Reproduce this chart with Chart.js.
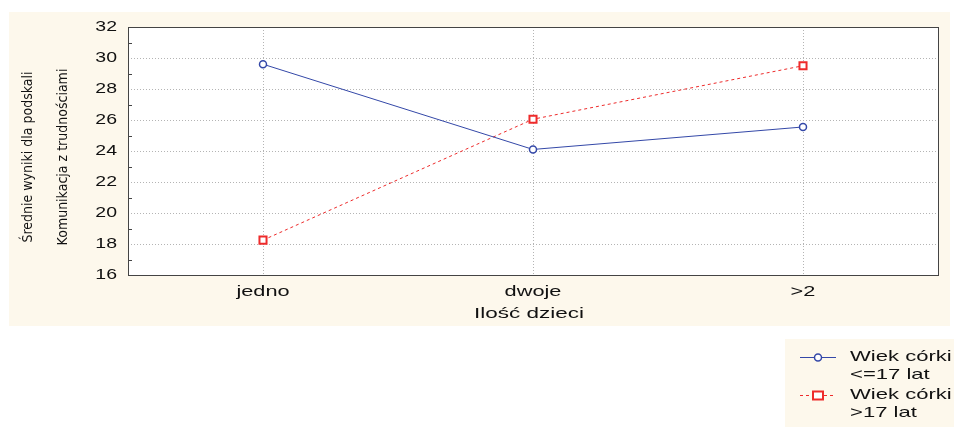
<!DOCTYPE html>
<html>
<head>
<meta charset="utf-8">
<script src="https://cdn.jsdelivr.net/npm/chart.js@4/dist/chart.umd.min.js"></script>
<style>
  html, body { margin: 0; padding: 0; background: #fff; }
  #wrap { width: 954px; height: 427px; position: relative; }
</style>
</head>
<body>
<div id="wrap"><canvas id="c" width="954" height="427"></canvas></div>
<script>
// --- Data ---
const categories = ['jedno', 'dwoje', '>2'];
const youngerDaughter = [29.6, 24.1, 25.55];   // Wiek córki <=17 lat
const olderDaughter = [18.25, 26.05, 29.5];    // Wiek córki >17 lat
const seriesNames = [['Wiek córki', '<=17 lat'], ['Wiek córki', '>17 lat']];
const yTitle = ['Średnie wyniki dla podskali', 'Komunikacja z trudnościami'];
const xTitle = 'Ilość dzieci';

const CREAM = '#fdf8ec';
const BLUE = '#3448a8';
const RED = '#ee2b2b';
const FONT = '"Liberation Sans", Arial, sans-serif';
const NARROW = '"Liberation Sans Narrow", "DejaVu Sans Condensed", sans-serif';
const STRETCH = 1.45;   // the original text is drawn wide

// text widened horizontally, like the source image
function wideText(ctx, text, x, y, align, sx) {
    ctx.save();
    ctx.translate(x, y);
    ctx.scale(sx || STRETCH, 1);
    ctx.textAlign = align;
    ctx.fillText(text, 0, 0);
    ctx.restore();
}

const framePlugin = {
    id: 'frame',
    beforeDraw(chart) {
        const ctx = chart.ctx;
        ctx.save();
        ctx.fillStyle = CREAM;
        ctx.fillRect(9, 12, 941, 314);
        ctx.fillRect(785, 339, 169, 88);
        const a = chart.chartArea;
        ctx.fillStyle = '#fff';
        ctx.fillRect(a.left, a.top, a.right - a.left, a.bottom - a.top);
        ctx.restore();
    },
    afterDraw(chart) {
        const ctx = chart.ctx;
        const a = chart.chartArea;
        const x = chart.scales.x;
        const y = chart.scales.y;
        ctx.save();
        ctx.strokeStyle = '#444';
        ctx.lineWidth = 1;
        ctx.strokeRect(Math.round(a.left) + 0.5, Math.round(a.top) + 0.5,
                       Math.round(a.right - a.left), Math.round(a.bottom - a.top));
        // minor ticks at odd values
        ctx.beginPath();
        for (let v = 17; v < 32; v += 2) {
            const py = Math.round(y.getPixelForValue(v)) + 0.5;
            ctx.moveTo(a.left, py);
            ctx.lineTo(a.left + 4, py);
        }
        ctx.stroke();

        // tick labels, placed by the scales
        ctx.fillStyle = '#111';
        ctx.textBaseline = 'middle';
        ctx.font = '15px ' + FONT;
        y.ticks.forEach((t, i) => {
            wideText(ctx, String(t.value), a.left - 11, y.getPixelForTick(i), 'right', 1.3);
        });
        x.ticks.forEach((t, i) => {
            wideText(ctx, categories[t.value], x.getPixelForTick(i), 292, 'center');
        });

        // axis titles
        wideText(ctx, xTitle, (a.left + a.right) / 2 - 4, 314, 'center', 1.5);
        ctx.save();
        ctx.translate(0, 157);
        ctx.rotate(-Math.PI / 2);
        ctx.font = '14px ' + NARROW;
        ctx.textAlign = 'center';
        ctx.fillText(yTitle[0], 0, 28);
        ctx.fillText(yTitle[1], 0, 63);
        ctx.restore();

        // legend
        const rows = [357, 395];
        chart.data.datasets.forEach((ds, i) => {
            const ly = rows[i] + 0.5;
            ctx.strokeStyle = ds.borderColor;
            ctx.lineWidth = 1;
            ctx.setLineDash(ds.borderDash || []);
            ctx.beginPath();
            ctx.moveTo(800, ly);
            ctx.lineTo(836, ly);
            ctx.stroke();
            ctx.setLineDash([]);
            ctx.fillStyle = '#fff';
            ctx.lineWidth = ds.pointBorderWidth;
            if (ds.pointStyle === 'rect') {
                ctx.fillRect(813, ly - 4, 10, 8);
                ctx.strokeRect(813, ly - 4, 10, 8);
            } else {
                ctx.beginPath();
                ctx.arc(818, ly, 3.5, 0, Math.PI * 2);
                ctx.fill();
                ctx.stroke();
            }
            ctx.fillStyle = '#111';
            ctx.font = '15px ' + FONT;
            ctx.textBaseline = 'middle';
            wideText(ctx, seriesNames[i][0], 850, rows[i], 'left', 1.47);
            wideText(ctx, seriesNames[i][1], 850, rows[i] + 18, 'left', 1.47);
        });
        ctx.restore();
    }
};

new Chart(document.getElementById('c'), {
    type: 'line',
    data: {
        labels: categories,
        datasets: [{
            label: seriesNames[0].join(' '),
            data: youngerDaughter,
            borderColor: BLUE,
            borderWidth: 1,
            pointStyle: 'circle',
            pointRadius: 3.5,
            pointBorderWidth: 1.5,
            pointBackgroundColor: '#fff',
            pointBorderColor: BLUE,
            tension: 0
        }, {
            label: seriesNames[1].join(' '),
            data: olderDaughter,
            borderColor: RED,
            borderWidth: 1,
            borderDash: [3, 3],
            pointStyle: 'rect',
            pointRadius: 5,
            pointBorderWidth: 2,
            pointBackgroundColor: '#fff',
            pointBorderColor: RED,
            tension: 0
        }]
    },
    options: {
        responsive: false,
        animation: false,
        devicePixelRatio: 1,
        layout: { padding: { top: 27, right: 16, bottom: 101, left: 0 } },
        plugins: { legend: { display: false }, tooltip: { enabled: false } },
        scales: {
            x: {
                offset: true,
                grid: { offset: false, color: '#b4b4b4', drawTicks: false },
                border: { display: false, dash: [1, 2] },
                ticks: { display: false },
                afterFit(scale) { scale.height = 51; }
            },
            y: {
                min: 16,
                max: 32,
                ticks: { stepSize: 2, display: false },
                grid: {
                    drawTicks: false,
                    color: ctx => (ctx.tick && (ctx.tick.value === 16 || ctx.tick.value === 32)) ? 'rgba(0,0,0,0)' : '#b4b4b4'
                },
                border: { display: false, dash: [1, 2] },
                afterFit(scale) { scale.width = 128; }
            }
        }
    },
    plugins: [framePlugin]
});
</script>
</body>
</html>
